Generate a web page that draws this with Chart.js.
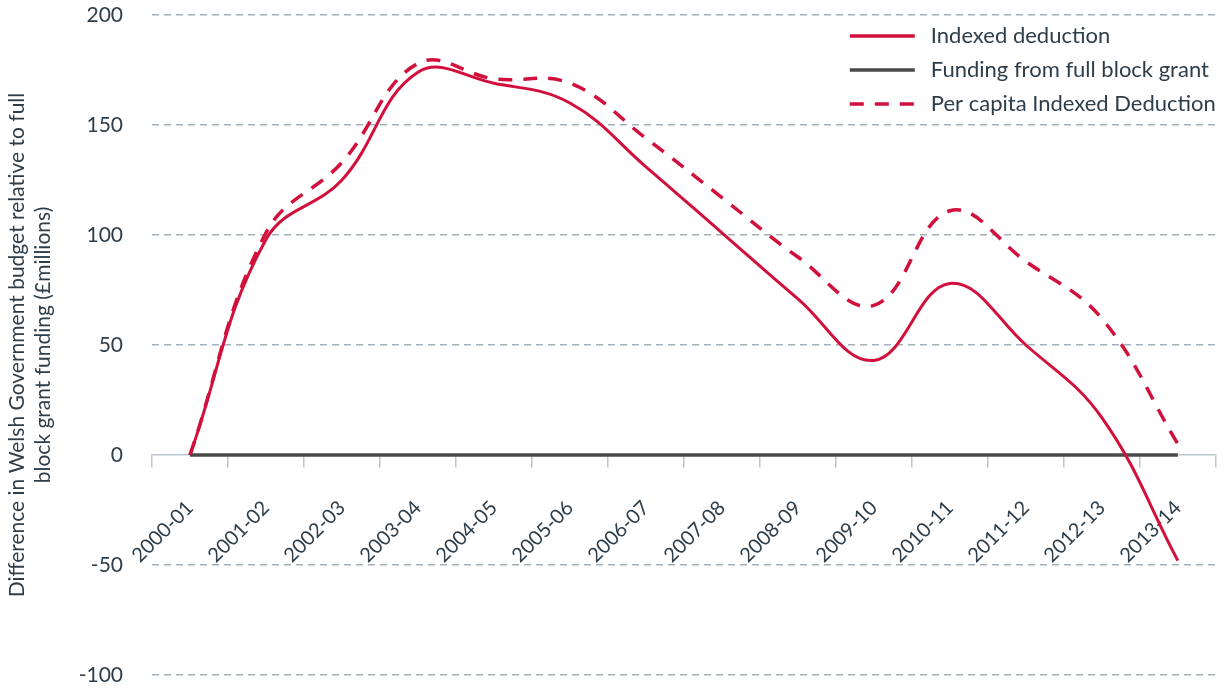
<!DOCTYPE html>
<html>
<head>
<meta charset="utf-8">
<script src="https://cdn.jsdelivr.net/npm/chart.js@4/dist/chart.umd.min.js"></script>
<style>
  html, body { margin: 0; padding: 0; background: #fff; }
</style>
</head>
<body>
<canvas id="budgetChart" width="1224" height="691"></canvas>
<script>
// values (£ millions)
const years = ["2000-01", "2001-02", "2002-03", "2003-04", "2004-05", "2005-06", "2006-07",
  "2007-08", "2008-09", "2009-10", "2010-11", "2011-12", "2012-13", "2013-14"];
const indexedDeduction = [0, 98, 125, 174, 169, 160, 131, 101, 71, 43, 78, 50, 17, -48];
const blockGrant = [0, 0, 0, 0, 0, 0, 0, 0, 0, 0, 0, 0, 0, 0];
const perCapitaDeduction = [0, 101, 133, 178, 171, 169, 144, 117, 90, 68, 111, 88, 62, 5];

const red = '#d2103c';
const darkGrey = '#4a4a4a';
const textColor = '#2d3e4a';
const gridColor = '#a3b0ba';
const axisColor = '#bcc6cd';

// legend drawn in the top right corner of the plot
const cornerLegend = {
  id: 'cornerLegend',
  afterDraw(chart) {
    const { ctx, chartArea } = chart;
    const x0 = chartArea.right - 366;
    ctx.save();
    ctx.font = '22px Lato';
    ctx.textBaseline = 'middle';
    chart.data.datasets.forEach((ds, i) => {
      const y = chartArea.top + 21 + i * 34;
      ctx.strokeStyle = ds.borderColor;
      ctx.lineWidth = 3.5;
      ctx.setLineDash(ds.borderDash || []);
      ctx.beginPath();
      ctx.moveTo(x0, y);
      ctx.lineTo(x0 + 65, y);
      ctx.stroke();
      ctx.setLineDash([]);
      ctx.fillStyle = textColor;
      ctx.fillText(ds.label, x0 + 81, y);
    });
    ctx.restore();
  }
};

const ctx = document.getElementById('budgetChart').getContext('2d');
const budgetChart = new Chart(ctx, {
  type: 'line',
  data: {
    labels: years,
    datasets: [{
      label: 'Indexed deduction',
      data: indexedDeduction,
      borderColor: red,
      borderWidth: 3,
      tension: 0.4,
      pointRadius: 0
    }, {
      label: 'Funding from full block grant',
      data: blockGrant,
      borderColor: darkGrey,
      borderWidth: 3.5,
      pointRadius: 0
    }, {
      label: 'Per capita Indexed Deduction',
      data: perCapitaDeduction,
      borderColor: red,
      borderWidth: 3.5,
      borderDash: [14, 11],
      tension: 0.4,
      pointRadius: 0
    }]
  },
  options: {
    responsive: false,
    animation: false,
    layout: { padding: { top: 15, right: 6, bottom: 16, left: 0 } },
    plugins: {
      legend: { display: false },
      tooltip: { enabled: false }
    },
    scales: {
      x: {
        position: { y: 0 },
        offset: true,
        border: { display: true, color: axisColor, width: 1.5 },
        grid: {
          offset: true,
          drawOnChartArea: false,
          drawTicks: true,
          tickLength: 12,
          color: axisColor,
          lineWidth: 1.5
        },
        ticks: {
          color: textColor,
          font: { family: 'Lato', size: 20 },
          minRotation: 45,
          maxRotation: 45,
          padding: 29
        }
      },
      y: {
        min: -100,
        max: 200,
        afterFit(scale) {
          scale.width = 152;
          scale.paddingTop = 0;
          scale.paddingBottom = 0;
        },
        grid: {
          drawTicks: false,
          color: (c) => c.tick && c.tick.value === 0 ? 'rgba(0,0,0,0)' : gridColor,
          lineWidth: 1.5
        },
        border: { display: false, dash: [7, 5] },
        ticks: {
          stepSize: 50,
          color: textColor,
          font: { family: 'Lato', size: 21 },
          padding: 29
        },
        title: {
          display: true,
          text: ['Difference in Welsh Government budget relative to full',
                 'block grant funding (£millions)'],
          color: textColor,
          font: { family: 'Lato', size: 21, lineHeight: 1.24 },
          padding: { top: 4, bottom: 0 }
        }
      }
    }
  },
  plugins: [cornerLegend]
});
</script>
</body>
</html>
